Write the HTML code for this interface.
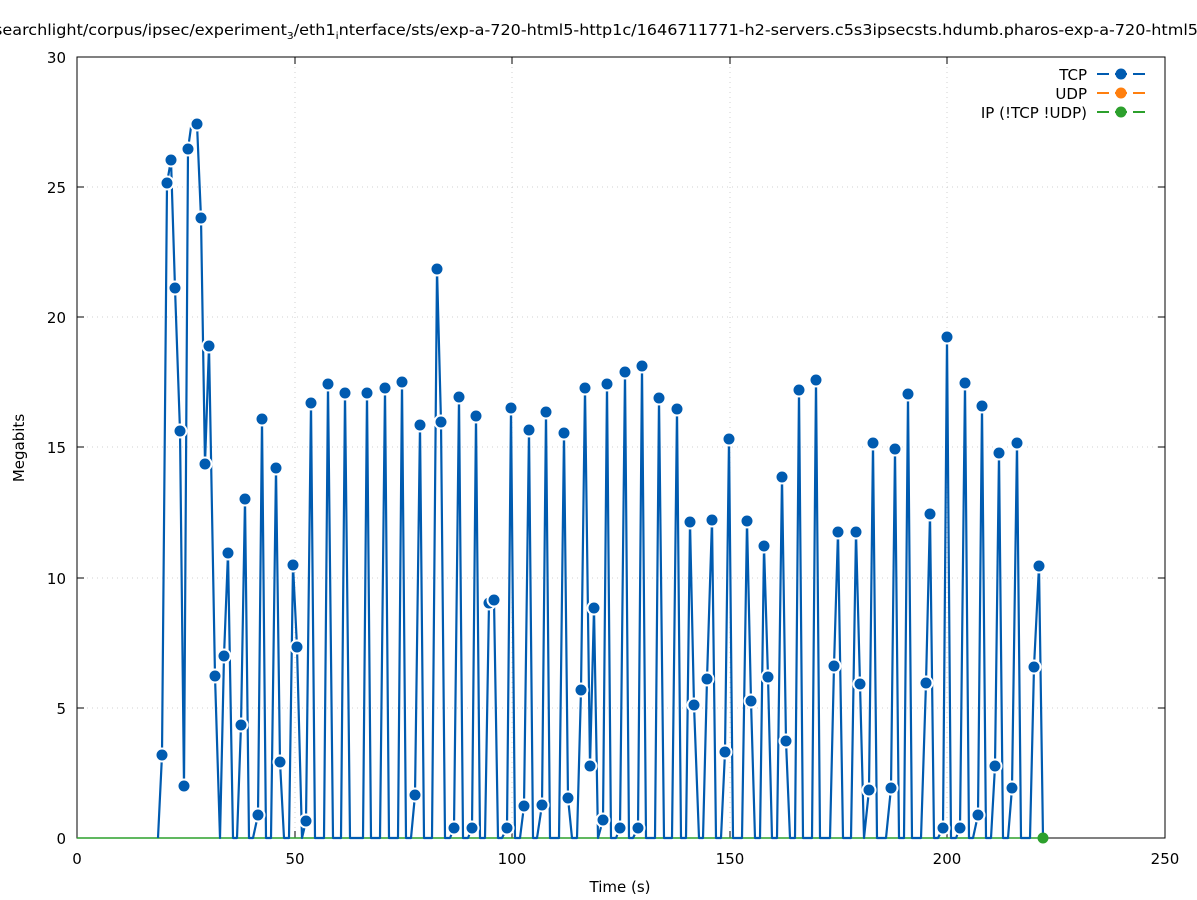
<!DOCTYPE html>
<html><head><meta charset="utf-8"><style>body{margin:0;background:#fff}svg{display:block}text{font-family:"DejaVu Sans","Liberation Sans",sans-serif;font-size:15px;fill:#000}</style></head>
<body>
<svg width="1197" height="900" viewBox="0 0 1197 900" xmlns="http://www.w3.org/2000/svg">
<rect width="1197" height="900" fill="#fff"/>
<g stroke="#d0d0d0" stroke-width="1" stroke-dasharray="1,4">
<line x1="295" y1="57" x2="295" y2="838"/><line x1="512" y1="57" x2="512" y2="838"/><line x1="730" y1="57" x2="730" y2="838"/><line x1="947" y1="57" x2="947" y2="838"/>
<line x1="77" y1="708" x2="1165" y2="708"/><line x1="77" y1="578" x2="1165" y2="578"/><line x1="77" y1="447" x2="1165" y2="447"/><line x1="77" y1="317" x2="1165" y2="317"/><line x1="77" y1="187" x2="1165" y2="187"/>
</g>
<rect x="77" y="57" width="1088" height="781" fill="none" stroke="#000" stroke-width="1"/>
<g stroke="#000">
<line x1="77" y1="838" x2="77" y2="831"/><line x1="295" y1="838" x2="295" y2="831"/><line x1="512" y1="838" x2="512" y2="831"/><line x1="730" y1="838" x2="730" y2="831"/><line x1="947" y1="838" x2="947" y2="831"/>
<line x1="77" y1="708" x2="84" y2="708"/><line x1="77" y1="578" x2="84" y2="578"/><line x1="77" y1="447" x2="84" y2="447"/><line x1="77" y1="317" x2="84" y2="317"/><line x1="77" y1="187" x2="84" y2="187"/>
<line x1="1165" y1="708" x2="1158" y2="708"/><line x1="1165" y1="578" x2="1158" y2="578"/><line x1="1165" y1="447" x2="1158" y2="447"/><line x1="1165" y1="317" x2="1158" y2="317"/><line x1="1165" y1="187" x2="1158" y2="187"/>
<line x1="295" y1="57" x2="295" y2="64"/><line x1="512" y1="57" x2="512" y2="64"/><line x1="730" y1="57" x2="730" y2="64"/><line x1="947" y1="57" x2="947" y2="64"/>
</g>
<g text-anchor="end">
<text x="66" y="844">0</text><text x="66" y="714">5</text><text x="66" y="584">10</text><text x="66" y="453">15</text><text x="66" y="323">20</text><text x="66" y="193">25</text><text x="66" y="63">30</text>
</g>
<g text-anchor="middle">
<text x="77" y="864">0</text><text x="295" y="864">50</text><text x="512" y="864">100</text><text x="730" y="864">150</text><text x="947" y="864">200</text><text x="1165" y="864">250</text>
<text x="620" y="892">Time (s)</text>
</g>
<text x="-6" y="35" textLength="1204" lengthAdjust="spacingAndGlyphs">searchlight/corpus/ipsec/experiment<tspan font-size="10" dy="4">3</tspan><tspan dy="-4">/eth1</tspan><tspan font-size="10" dy="4">i</tspan><tspan dy="-4">nterface/sts/exp-a-720-html5-http1c/1646711771-h2-servers.c5s3ipsecsts.hdumb.pharos-exp-a-720-html5</tspan></text>
<text x="24" y="448" text-anchor="middle" transform="rotate(-90 24 448)">Megabits</text>
<line x1="77" y1="838" x2="1043" y2="838" stroke="#2ca02c" stroke-width="1.5"/>
<polyline fill="none" stroke="#005bb0" stroke-width="2.2" stroke-linejoin="round" points="158,838 162,755 167,183 171,160 175,288 180,431 184,786 188,149 192,120 197,124 201,218 205,464 209,346 215,676 220,838 224,656 228,553 233,838 237,838 241,725 245,499 249,838 253,838 258,815 262,419 266,838 271,838 276,468 280,762 284,838 289,838 293,565 297,647 302,838 306,821 311,403 315,838 324,838 328,384 333,838 341,838 345,393 350,838 363,838 367,393 371,838 380,838 385,388 389,838 398,838 402,382 406,838 411,838 415,795 420,425 424,838 432,838 437,269 441,422 445,838 450,838 454,828 459,397 463,838 468,838 472,828 476,416 480,838 485,838 489,603 494,600 498,838 502,838 507,828 511,408 515,838 520,838 524,806 529,430 533,838 537,838 542,805 546,412 550,838 559,838 564,433 568,798 572,838 577,838 581,690 585,388 590,766 594,608 598,838 603,820 607,384 611,838 616,838 620,828 625,372 629,838 633,838 638,828 642,366 646,838 655,838 659,398 664,838 672,838 677,409 681,838 686,838 690,522 694,705 699,838 703,838 707,679 712,520 716,838 721,838 725,752 729,439 733,838 742,838 747,521 751,701 755,838 760,838 764,546 768,677 772,838 777,838 782,477 786,741 790,838 795,838 799,390 803,838 812,838 816,380 820,838 830,838 834,666 838,532 843,838 851,838 856,532 860,684 864,838 869,790 873,443 877,838 886,838 891,788 895,449 899,838 904,838 908,394 912,838 921,838 926,683 930,514 934,838 938,838 943,828 947,337 951,838 956,838 960,828 965,383 969,838 973,838 978,815 982,406 986,838 991,838 995,766 999,453 1003,838 1008,838 1012,788 1017,443 1021,838 1030,838 1034,667 1039,566 1043,838"/>
<g fill="#005bb0" stroke="#fff" stroke-width="2">
<circle cx="162" cy="755" r="6.5"/><circle cx="167" cy="183" r="6.5"/><circle cx="171" cy="160" r="6.5"/><circle cx="175" cy="288" r="6.5"/><circle cx="180" cy="431" r="6.5"/><circle cx="184" cy="786" r="6.5"/><circle cx="188" cy="149" r="6.5"/><circle cx="197" cy="124" r="6.5"/><circle cx="201" cy="218" r="6.5"/><circle cx="205" cy="464" r="6.5"/><circle cx="209" cy="346" r="6.5"/><circle cx="215" cy="676" r="6.5"/><circle cx="224" cy="656" r="6.5"/><circle cx="228" cy="553" r="6.5"/><circle cx="241" cy="725" r="6.5"/><circle cx="245" cy="499" r="6.5"/><circle cx="258" cy="815" r="6.5"/><circle cx="262" cy="419" r="6.5"/><circle cx="276" cy="468" r="6.5"/><circle cx="280" cy="762" r="6.5"/><circle cx="293" cy="565" r="6.5"/><circle cx="297" cy="647" r="6.5"/><circle cx="306" cy="821" r="6.5"/><circle cx="311" cy="403" r="6.5"/><circle cx="328" cy="384" r="6.5"/><circle cx="345" cy="393" r="6.5"/><circle cx="367" cy="393" r="6.5"/><circle cx="385" cy="388" r="6.5"/><circle cx="402" cy="382" r="6.5"/><circle cx="415" cy="795" r="6.5"/><circle cx="420" cy="425" r="6.5"/><circle cx="437" cy="269" r="6.5"/><circle cx="441" cy="422" r="6.5"/><circle cx="454" cy="828" r="6.5"/><circle cx="459" cy="397" r="6.5"/><circle cx="472" cy="828" r="6.5"/><circle cx="476" cy="416" r="6.5"/><circle cx="489" cy="603" r="6.5"/><circle cx="494" cy="600" r="6.5"/><circle cx="507" cy="828" r="6.5"/><circle cx="511" cy="408" r="6.5"/><circle cx="524" cy="806" r="6.5"/><circle cx="529" cy="430" r="6.5"/><circle cx="542" cy="805" r="6.5"/><circle cx="546" cy="412" r="6.5"/><circle cx="564" cy="433" r="6.5"/><circle cx="568" cy="798" r="6.5"/><circle cx="581" cy="690" r="6.5"/><circle cx="585" cy="388" r="6.5"/><circle cx="590" cy="766" r="6.5"/><circle cx="594" cy="608" r="6.5"/><circle cx="603" cy="820" r="6.5"/><circle cx="607" cy="384" r="6.5"/><circle cx="620" cy="828" r="6.5"/><circle cx="625" cy="372" r="6.5"/><circle cx="638" cy="828" r="6.5"/><circle cx="642" cy="366" r="6.5"/><circle cx="659" cy="398" r="6.5"/><circle cx="677" cy="409" r="6.5"/><circle cx="690" cy="522" r="6.5"/><circle cx="694" cy="705" r="6.5"/><circle cx="707" cy="679" r="6.5"/><circle cx="712" cy="520" r="6.5"/><circle cx="725" cy="752" r="6.5"/><circle cx="729" cy="439" r="6.5"/><circle cx="747" cy="521" r="6.5"/><circle cx="751" cy="701" r="6.5"/><circle cx="764" cy="546" r="6.5"/><circle cx="768" cy="677" r="6.5"/><circle cx="782" cy="477" r="6.5"/><circle cx="786" cy="741" r="6.5"/><circle cx="799" cy="390" r="6.5"/><circle cx="816" cy="380" r="6.5"/><circle cx="834" cy="666" r="6.5"/><circle cx="838" cy="532" r="6.5"/><circle cx="856" cy="532" r="6.5"/><circle cx="860" cy="684" r="6.5"/><circle cx="869" cy="790" r="6.5"/><circle cx="873" cy="443" r="6.5"/><circle cx="891" cy="788" r="6.5"/><circle cx="895" cy="449" r="6.5"/><circle cx="908" cy="394" r="6.5"/><circle cx="926" cy="683" r="6.5"/><circle cx="930" cy="514" r="6.5"/><circle cx="943" cy="828" r="6.5"/><circle cx="947" cy="337" r="6.5"/><circle cx="960" cy="828" r="6.5"/><circle cx="965" cy="383" r="6.5"/><circle cx="978" cy="815" r="6.5"/><circle cx="982" cy="406" r="6.5"/><circle cx="995" cy="766" r="6.5"/><circle cx="999" cy="453" r="6.5"/><circle cx="1012" cy="788" r="6.5"/><circle cx="1017" cy="443" r="6.5"/><circle cx="1034" cy="667" r="6.5"/><circle cx="1039" cy="566" r="6.5"/>
</g>
<circle cx="1043" cy="838" r="5.5" fill="#2ca02c"/>
<g text-anchor="end">
<text x="1087" y="80">TCP</text><text x="1087" y="99">UDP</text><text x="1087" y="118">IP (!TCP  !UDP)</text>
</g>
<g stroke-width="2">
<line x1="1097" y1="74" x2="1145" y2="74" stroke="#005bb0" stroke-dasharray="12,6"/>
<line x1="1097" y1="93" x2="1145" y2="93" stroke="#ff7f0e" stroke-dasharray="12,6"/>
<line x1="1097" y1="112" x2="1145" y2="112" stroke="#2ca02c" stroke-dasharray="12,6"/>
</g>
<circle cx="1121" cy="74" r="5.5" fill="#005bb0"/><circle cx="1121" cy="93" r="5.5" fill="#ff7f0e"/><circle cx="1121" cy="112" r="5.5" fill="#2ca02c"/>
</svg>
</body></html>
